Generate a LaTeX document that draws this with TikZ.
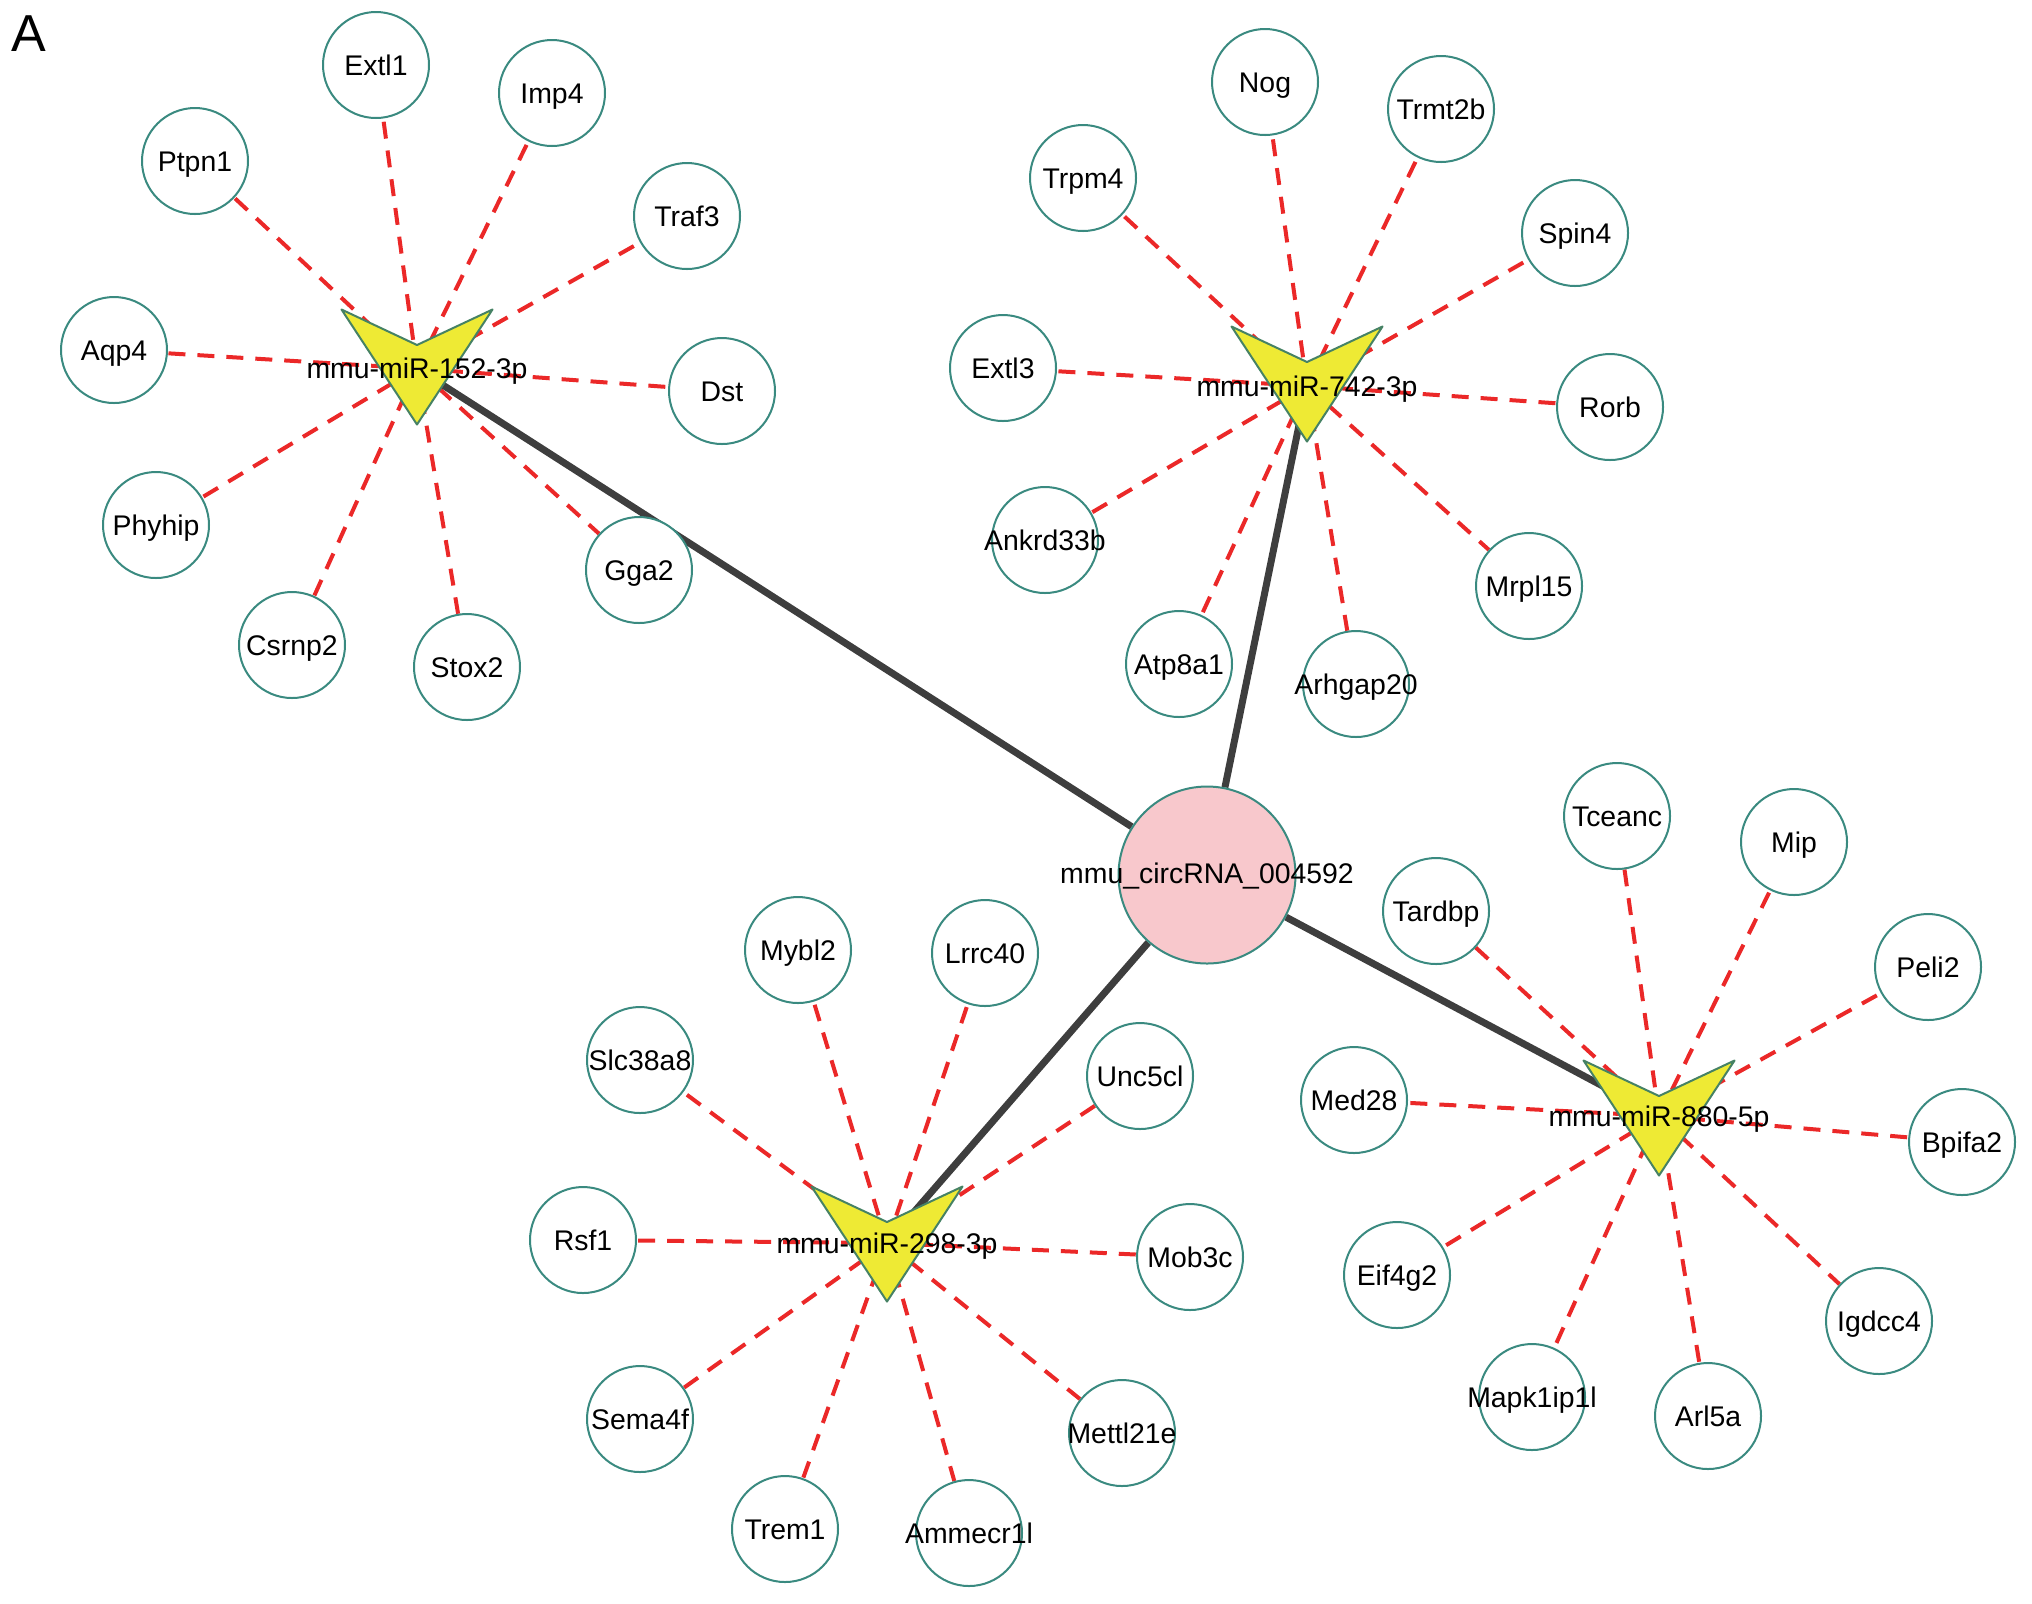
\documentclass[tikz,border=0pt]{standalone}
\usepackage{fontspec}
\setmainfont{Liberation Sans}
\usetikzlibrary{backgrounds}
\definecolor{cstroke}{RGB}{58,138,128}
\definecolor{vstroke}{RGB}{70,130,100}
\definecolor{vfill}{RGB}{238,234,52}
\definecolor{dred}{RGB}{235,40,40}
\definecolor{dgray}{RGB}{62,62,62}
\definecolor{cpink}{RGB}{248,200,204}
\newcommand\gtxt[1]{\makebox[0pt][c]{#1}}
\tikzset{
  gene/.style={circle, draw=cstroke, line width=1pt, fill=white, minimum size=53pt, inner sep=0pt, font=\fontsize{14.2pt}{17pt}\selectfont, text height=10.2pt, text depth=0pt},
  hub/.style={circle, draw=cstroke, line width=1pt, fill=cpink, minimum size=88.5pt, inner sep=0pt},
  mirlabel/.style={inner sep=0pt, font=\fontsize{14.2pt}{17pt}\selectfont, text height=10.2pt, text depth=0pt},
  target/.style={draw=dred, line width=2pt, dash pattern=on 8.5pt off 6pt},
  link/.style={draw=dgray, line width=3.5pt},
  vshape/.pic={\filldraw[fill=vfill, draw=vstroke, line width=1pt, line join=round] (-75.5,-57.5) -- (0,-22) -- (75.5,-57.5) -- (0,57.5) -- cycle;}
}
\begin{document}
\begin{tikzpicture}[x=0.5pt, y=-0.5pt]
\useasboundingbox (0,0) rectangle (2032,1603);
\node[font=\fontsize{26pt}{30pt}\selectfont, inner sep=0pt] (lblA) at (29,34) {A};
% miRNA shapes
\pic at (417,367) {vshape};
\pic at (1307,384) {vshape};
\pic at (887,1244) {vshape};
\pic at (1659,1118) {vshape};
% hub
\node[hub] (circ) at (1207,875) {};
% genes of miR-152
\node[gene] (Extl1) at (376,65) {\gtxt{Extl1}};
\node[gene] (Imp4) at (552,93) {\gtxt{Imp4}};
\node[gene] (Ptpn1) at (195,161) {\gtxt{Ptpn1}};
\node[gene] (Traf3) at (687,216) {\gtxt{Traf3}};
\node[gene] (Aqp4) at (114,350) {\gtxt{Aqp4}};
\node[gene] (Dst) at (722,391) {\gtxt{Dst}};
\node[gene] (Phyhip) at (156,525) {\gtxt{Phyhip}};
\node[gene] (Gga2) at (639,570) {\gtxt{Gga2}};
\node[gene] (Csrnp2) at (292,645) {\gtxt{Csrnp2}};
\node[gene] (Stox2) at (467,667) {\gtxt{Stox2}};
% genes of miR-742
\node[gene] (Nog) at (1265,82) {\gtxt{Nog}};
\node[gene] (Trmt2b) at (1441,109) {\gtxt{Trmt2b}};
\node[gene] (Trpm4) at (1083,178) {\gtxt{Trpm4}};
\node[gene] (Spin4) at (1575,233) {\gtxt{Spin4}};
\node[gene] (Extl3) at (1003,368) {\gtxt{Extl3}};
\node[gene] (Rorb) at (1610,407) {\gtxt{Rorb}};
\node[gene] (Ankrd33b) at (1045,540) {\gtxt{Ankrd33b}};
\node[gene] (Mrpl15) at (1529,586) {\gtxt{Mrpl15}};
\node[gene] (Atp8a1) at (1179,664) {\gtxt{Atp8a1}};
\node[gene] (Arhgap20) at (1356,684) {\gtxt{Arhgap20}};
% genes of miR-298
\node[gene] (Mybl2) at (798,950) {\gtxt{Mybl2}};
\node[gene] (Lrrc40) at (985,953) {\gtxt{Lrrc40}};
\node[gene] (Slc38a8) at (640,1060) {\gtxt{Slc38a8}};
\node[gene] (Unc5cl) at (1140,1076) {\gtxt{Unc5cl}};
\node[gene] (Rsf1) at (583,1240) {\gtxt{Rsf1}};
\node[gene] (Mob3c) at (1190,1257) {\gtxt{Mob3c}};
\node[gene] (Sema4f) at (640,1419) {\gtxt{Sema4f}};
\node[gene] (Mettl21e) at (1122,1433) {\gtxt{Mettl21e}};
\node[gene] (Trem1) at (785,1529) {\gtxt{Trem1}};
\node[gene] (Ammecr1l) at (969,1533) {\gtxt{Ammecr1l}};
% genes of miR-880
\node[gene] (Tceanc) at (1617,816) {\gtxt{Tceanc}};
\node[gene] (Mip) at (1794,842) {\gtxt{Mip}};
\node[gene] (Tardbp) at (1436,911) {\gtxt{Tardbp}};
\node[gene] (Peli2) at (1928,967) {\gtxt{Peli2}};
\node[gene] (Med28) at (1354,1100) {\gtxt{Med28}};
\node[gene] (Bpifa2) at (1962,1142) {\gtxt{Bpifa2}};
\node[gene] (Eif4g2) at (1397,1275) {\gtxt{Eif4g2}};
\node[gene] (Igdcc4) at (1879,1321) {\gtxt{Igdcc4}};
\node[gene] (Mapk1ip1l) at (1532,1397) {\gtxt{Mapk1ip1l}};
\node[gene] (Arl5a) at (1708,1416) {\gtxt{Arl5a}};
% labels
\node[mirlabel] (m152) at (417,368.5) {mmu-miR-152-3p};
\node[mirlabel] (m742) at (1307,386) {mmu-miR-742-3p};
\node[mirlabel] (m298) at (887,1243) {mmu-miR-298-3p};
\node[mirlabel] (m880) at (1659,1116) {mmu-miR-880-5p};
\node[mirlabel] (circlbl) at (1207,873.5) {mmu\_circRNA\_004592};
\begin{scope}[on background layer]
\foreach \g in {Extl1,Imp4,Ptpn1,Traf3,Aqp4,Dst,Phyhip,Gga2,Csrnp2,Stox2}
  \draw[target] (m152.center) -- (\g);
\foreach \g in {Nog,Trmt2b,Trpm4,Spin4,Extl3,Rorb,Ankrd33b,Mrpl15,Atp8a1,Arhgap20}
  \draw[target] (m742.center) -- (\g);
\foreach \g in {Mybl2,Lrrc40,Slc38a8,Unc5cl,Rsf1,Mob3c,Sema4f,Mettl21e,Trem1,Ammecr1l}
  \draw[target] (m298.center) -- (\g);
\foreach \g in {Tceanc,Mip,Tardbp,Peli2,Med28,Bpifa2,Eif4g2,Igdcc4,Mapk1ip1l,Arl5a}
  \draw[target] (m880.center) -- (\g);
\foreach \m in {m152,m742,m298,m880}
  \draw[link] (circ) -- (\m.center);
\end{scope}
\end{tikzpicture}
\end{document}
